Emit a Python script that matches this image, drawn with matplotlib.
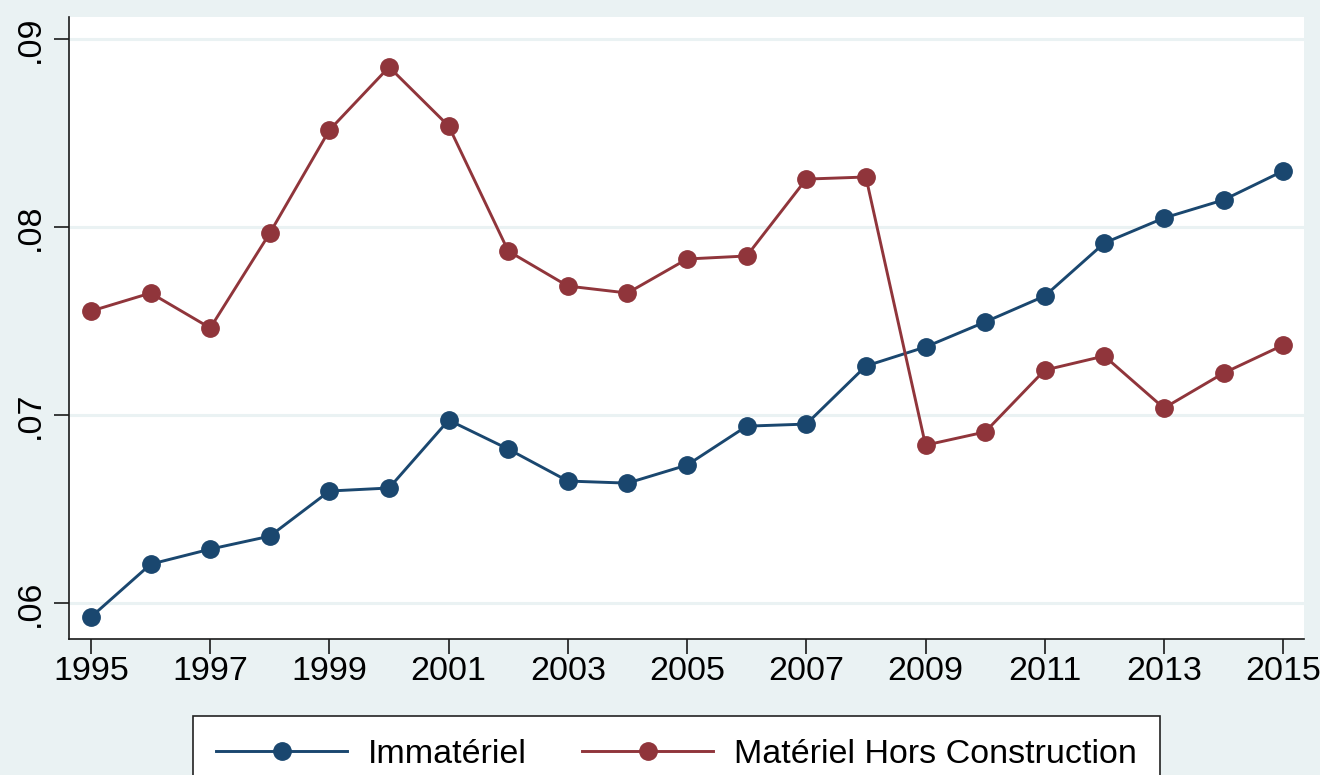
import matplotlib
matplotlib.use("Agg")
import matplotlib.pyplot as plt

years = list(range(1995, 2016))
immateriel = [0.05926, 0.06207, 0.06287, 0.06356, 0.06596, 0.06612, 0.06973,
              0.06819, 0.06649, 0.06638, 0.06734, 0.06941, 0.06952, 0.07261,
              0.07362, 0.07495, 0.07633, 0.07915, 0.08048, 0.08144, 0.08298]
materiel = [0.07553, 0.07649, 0.07463, 0.07968, 0.08516, 0.08851, 0.08537,
            0.07872, 0.07686, 0.07649, 0.07830, 0.07846, 0.08255, 0.08266,
            0.06840, 0.06910, 0.07239, 0.07314, 0.07037, 0.07223, 0.07372]
labels = ["Immatériel", "Matériel Hors Construction"]
xticks = list(range(1995, 2016, 2))
yticks = [0.06, 0.07, 0.08, 0.09]
ytick_labels = [".06", ".07", ".08", ".09"]

BG = "#EAF2F3"
NAVY = "#1A476F"
MAROON = "#90353B"

plt.rcParams['font.family'] = ['Liberation Sans', 'DejaVu Sans']

fig = plt.figure(figsize=(13.2, 7.75), dpi=100, facecolor=BG)
ax = fig.add_axes([69/1320, 1 - 639/775, (1304-69)/1320, (639-17)/775])
ax.set_facecolor("white")

for yv in yticks:
    ax.axhline(yv, color=BG, lw=2.2, zorder=0)

ax.plot(years, immateriel, color=NAVY, lw=2.1, marker='o', ms=12.5,
        label=labels[0], zorder=3)
ax.plot(years, materiel, color=MAROON, lw=2.1, marker='o', ms=12.5,
        label=labels[1], zorder=3)

ax.set_xlim(1994.63, 2015.35)
ax.set_ylim(0.05809, 0.09117)
ax.set_xticks(xticks)
ax.set_xticklabels([str(x) for x in xticks])
ax.set_yticks(yticks)
ax.set_yticklabels(ytick_labels, rotation=90, va='center')

for s in ['top', 'right']:
    ax.spines[s].set_visible(False)
for s in ['left', 'bottom']:
    ax.spines[s].set_color('#1a1a1a')
    ax.spines[s].set_linewidth(1.2)

ax.tick_params(axis='both', length=11, width=1.2, color='#1a1a1a',
               labelsize=24.5, labelcolor='black')
ax.tick_params(axis='y', pad=6)
ax.tick_params(axis='x', pad=1.0)

leg = fig.legend(loc='upper left', bbox_to_anchor=(193/1320, 1 - 716/775),
                 ncol=2, fontsize=24.5, frameon=True, fancybox=False,
                 edgecolor='#222222', facecolor='white', framealpha=1,
                 handlelength=3.85, handletextpad=0.62, columnspacing=1.62,
                 borderpad=0.68, borderaxespad=0)
leg.get_frame().set_linewidth(1.2)

fig.savefig("out.png", dpi=100, facecolor=BG)
